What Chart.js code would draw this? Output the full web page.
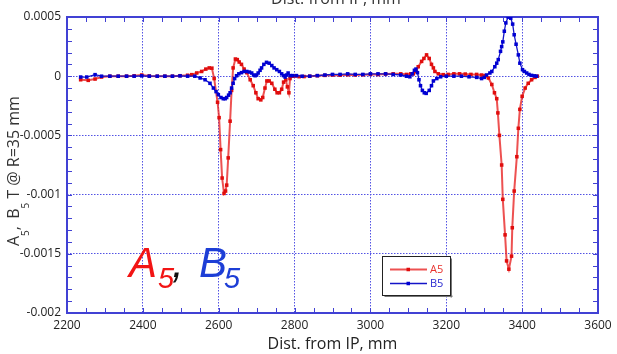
<!DOCTYPE html>
<html>
<head>
<meta charset="utf-8">
<script src="https://cdn.jsdelivr.net/npm/chart.js@4.4.0/dist/chart.umd.min.js"></script>
<style>
  html, body { margin: 0; padding: 0; background: #fff; }
  #wrap { width: 617px; height: 354px; }
</style>
</head>
<body>
<div id="wrap"><canvas id="multChart" width="617" height="354"></canvas></div>
<script>
// A5 harmonic along the magnet, T @ R=35 mm
const a5Dist = [2236, 2256, 2274, 2291, 2313, 2335, 2357, 2377, 2397, 2417, 2438, 2458, 2478, 2498, 2518,
  2529, 2542, 2555, 2566, 2575, 2582, 2588, 2597, 2601, 2605, 2609, 2614, 2618, 2621, 2625, 2630, 2634,
  2638, 2644, 2649, 2654, 2660, 2667, 2674, 2683, 2691, 2698, 2704, 2711, 2716, 2722, 2727, 2733, 2740,
  2748, 2754, 2760, 2766, 2771, 2777, 2781, 2785, 2788, 2794, 2802, 2812, 2825, 2840, 2860, 2880, 2900,
  2920, 2940, 2960, 2980, 3000, 3020, 3040, 3060, 3080, 3095, 3106, 3113, 3120, 3126, 3135, 3141, 3148,
  3155, 3161, 3166, 3170, 3179, 3192, 3205, 3220, 3235, 3250, 3265, 3280, 3293, 3302, 3311, 3320, 3327,
  3333, 3336, 3340, 3346, 3349, 3355, 3359, 3365, 3372, 3374, 3379, 3386, 3390, 3394, 3400, 3408, 3416,
  3425, 3434, 3440];
const a5Val = [-0.00003, -0.000035, -0.000024, -0.000007, 0, 0, 0, 0.000003, 0.00001, 0.000002, 0, 0, 0,
  0.000004, 0.000008, 0.000013, 0.000027, 0.00004, 0.00006, 0.00007, 0.000068, -0.00002, -0.00022,
  -0.00035, -0.00062, -0.00086, -0.00099, -0.00097, -0.00092, -0.00069, -0.00038, -0.00012, 0.00007,
  0.000145, 0.00014, 0.00012, 0.0001, 0.00006, 0.00003, -0.00003, -0.00008, -0.00014, -0.00019, -0.0002,
  -0.00018, -0.0001, -0.00004, -0.00004, -0.00006, -0.00011, -0.00014, -0.00014, -0.00011, -0.00005,
  -0.00003, -0.00009, -0.00014, -0.00002, 0, 0.000002, -0.000004, -0.000003, 0, 0.000004, 0.000007,
  0.00001, 0.000008, 0.000012, 0.00001, 0.000012, 0.000015, 0.000014, 0.000018, 0.00002, 0.00002,
  0.000015, 0.00002, 0.00002, 0.00004, 0.00008, 0.000125, 0.00015, 0.00018, 0.00015, 0.0001, 0.00007,
  0.00004, 0.00002, 0.000013, 0.000015, 0.00002, 0.00002, 0.000018, 0.000015, 0.000015, 0.00001,
  0.000005, -0.000015, -0.00007, -0.00014, -0.00019, -0.00031, -0.0005, -0.00075, -0.00104, -0.00134,
  -0.00156, -0.00163, -0.00152, -0.00128, -0.00097, -0.00068, -0.00044, -0.00028, -0.00017, -0.0001,
  -0.00006, -0.00003, -0.00001, 0];

// B5 harmonic along the magnet
const b5Dist = [2236, 2252, 2274, 2291, 2313, 2335, 2357, 2377, 2397, 2417, 2438, 2458, 2478, 2498, 2518,
  2537, 2551, 2564, 2577, 2586, 2593, 2599, 2606, 2612, 2617, 2621, 2626, 2630, 2634, 2638, 2642, 2647,
  2653, 2660, 2667, 2674, 2681, 2687, 2692, 2696, 2700, 2704, 2709, 2713, 2719, 2726, 2733, 2740, 2746,
  2753, 2760, 2766, 2771, 2775, 2779, 2783, 2788, 2795, 2805, 2820, 2840, 2860, 2880, 2900, 2920, 2940,
  2960, 2980, 3000, 3020, 3040, 3060, 3080, 3095, 3104, 3110, 3116, 3120, 3124, 3128, 3132, 3137, 3142,
  3147, 3155, 3161, 3166, 3175, 3185, 3200, 3220, 3240, 3260, 3280, 3293, 3300, 3306, 3315, 3320, 3328,
  3333, 3337, 3343, 3346, 3349, 3353, 3357, 3363, 3367, 3370, 3375, 3379, 3384, 3390, 3394, 3401, 3406,
  3412, 3418, 3425, 3432, 3438];
const b5Val = [-0.000007, -0.000007, 0.000013, 0, 0, 0, 0, 0, 0.000003, 0, 0, 0, 0, 0.000003, 0, 0,
  -0.000015, -0.00003, -0.00006, -0.0001, -0.00013, -0.000156, -0.00018, -0.00019, -0.00019, -0.00018,
  -0.00016, -0.00014, -0.0001, -0.00006, -0.00002, 0.000004, 0.00002, 0.00003, 0.00004, 0.00004,
  0.000035, 0.000027, 0.00001, 0.000004, 0.00001, 0.000027, 0.00005, 0.00007, 0.0001, 0.000117, 0.00011,
  0.00009, 0.00007, 0.000055, 0.00004, 0.00002, 0.000005, -0.000007, 0.00001, 0.000027, 0.000005,
  0.000005, 0.000005, 0, 0, 0.000005, 0.00001, 0.000015, 0.000015, 0.00002, 0.000015, 0.000015, 0.00002,
  0.00002, 0.00002, 0.000015, 0.00001, 0, -0.000005, 0.00002, 0.00005, 0.00006, 0.00003, -0.00003,
  -0.00008, -0.00012, -0.00014, -0.000145, -0.00012, -0.00008, -0.00004, -0.00002, -0.000005, 0, 0, 0,
  -0.000005, -0.00001, -0.00002, -0.00001, 0.00001, 0.000027, 0.00004, 0.00008, 0.00011, 0.00014,
  0.00021, 0.00025, 0.00029, 0.00038, 0.00045, 0.0005, 0.0005, 0.00049, 0.00044, 0.00035, 0.00027,
  0.00018, 0.00011, 0.000055, 0.00004, 0.000027, 0.000015, 0.000007, 0.000003, 0];

const xTicks = [2200, 2400, 2600, 2800, 3000, 3200, 3400, 3600];
const yTicks = [0.0005, 0, -0.0005, -0.001, -0.0015, -0.002];
const xMinorStep = 50;
const yMinorPerMajor = 5;

const AXIS = '#4141d4';
const GRID = '#5252e4';
const FONT = '"Open Sans", "Liberation Sans", sans-serif';

const toPoints = (xs, ys) => xs.map((d, i) => ({ x: d, y: ys[i] }));

// full box with inward minor/major ticks on all four sides
const frame = {
  id: 'frame',
  beforeDatasetsDraw(chart) {
    const { ctx, chartArea: a, scales: { x, y } } = chart;
    ctx.save();
    ctx.strokeStyle = AXIS;
    ctx.lineWidth = 1;
    ctx.beginPath();
    for (let v = x.min; v <= x.max; v += xMinorStep) {
      const px = Math.round(x.getPixelForValue(v)) + 0.5;
      ctx.moveTo(px, a.bottom); ctx.lineTo(px, a.bottom - 5);
      ctx.moveTo(px, a.top); ctx.lineTo(px, a.top + 5);
    }
    const step = (yTicks[0] - yTicks[1]) / yMinorPerMajor;
    const n = Math.round((y.max - y.min) / step);
    for (let i = 0; i <= n; i++) {
      const py = Math.round(y.getPixelForValue(y.min + i * step)) + 0.5;
      ctx.moveTo(a.left, py); ctx.lineTo(a.left + 5, py);
      ctx.moveTo(a.right, py); ctx.lineTo(a.right - 5, py);
    }
    ctx.stroke();
    ctx.lineWidth = 2;
    ctx.strokeRect(a.left, a.top, a.right - a.left, a.bottom - a.top);
    ctx.restore();
  }
};

// titles and annotations around the plot
const labels = {
  id: 'labels',
  afterDraw(chart) {
    const { ctx } = chart;
    ctx.save();

    // top copy of the axis title, clipped by the canvas edge
    ctx.fillStyle = '#333';
    ctx.font = '16px ' + FONT;
    ctx.textAlign = 'center';
    ctx.textBaseline = 'alphabetic';
    ctx.fillText('Dist. from IP, mm', 336, 4);

    // y axis title with subscripts
    ctx.save();
    ctx.translate(18.5, 246);
    ctx.rotate(-Math.PI / 2);
    ctx.textAlign = 'left';
    const parts = [
      ['A', 0, 16], ['5', 10, 10], [',', 0, 16], ['  B', 0, 16], ['5', 10, 10], [' T @ R=35 mm', 0, 16]
    ];
    let cx = 0;
    parts.forEach(([t, dy, size]) => {
      ctx.font = size + 'px ' + FONT;
      ctx.fillText(t, cx, dy);
      if (t !== ',') cx += ctx.measureText(t).width;
      else cx += 3;
    });
    ctx.restore();

    // large A5, B5 annotation
    ctx.textAlign = 'left';
    ctx.font = 'italic 42px "Liberation Sans", sans-serif';
    ctx.fillStyle = '#f21414';
    ctx.fillText('A', 129, 277);
    ctx.fillStyle = '#111';
    ctx.fillText(',', 172, 277);
    ctx.fillStyle = '#1d3ed6';
    ctx.fillText('B', 199, 277);
    ctx.font = 'italic 29px "Liberation Sans", sans-serif';
    ctx.fillStyle = '#f21414';
    ctx.fillText('5', 158, 288);
    ctx.fillStyle = '#1d3ed6';
    ctx.fillText('5', 224, 288);

    // legend box
    const bx = 382.5, by = 256.5, bw = 68, bh = 39;
    ctx.fillStyle = '#fff';
    ctx.fillRect(bx, by, bw, bh);
    ctx.fillStyle = '#777';
    ctx.fillRect(bx + 2, by + bh, bw, 1.5);
    ctx.fillRect(bx + bw, by + 2, 1.5, bh);
    ctx.strokeStyle = '#222';
    ctx.lineWidth = 1;
    ctx.strokeRect(bx, by, bw, bh);
    ctx.font = '11px ' + FONT;
    ctx.textBaseline = 'middle';
    chart.data.datasets.forEach((ds, i) => {
      const ly = 269.5 + i * 14;
      ctx.strokeStyle = ds.borderColor;
      ctx.lineWidth = ds.borderWidth;
      ctx.beginPath();
      ctx.moveTo(390, ly); ctx.lineTo(427, ly);
      ctx.stroke();
      ctx.fillStyle = ds.pointBackgroundColor;
      ctx.fillRect(406.5, ly - 1.75, 3.5, 3.5);
      ctx.fillStyle = ds.legendColor;
      ctx.fillText(ds.label, 430, ly + 0.5);
    });
    ctx.restore();
  }
};

new Chart(document.getElementById('multChart'), {
  type: 'line',
  data: {
    datasets: [{
      label: 'A5',
      data: toPoints(a5Dist, a5Val),
      borderColor: 'rgba(232, 38, 38, 0.8)',
      borderWidth: 2,
      pointStyle: 'rect',
      pointRadius: 2.5,
      pointBorderWidth: 0,
      pointBackgroundColor: '#e00d0d',
      legendColor: '#e8332f',
      order: 2
    }, {
      label: 'B5',
      data: toPoints(b5Dist, b5Val),
      borderColor: '#1414c8',
      borderWidth: 1.3,
      pointStyle: 'rect',
      pointRadius: 2.5,
      pointBorderWidth: 0,
      pointBackgroundColor: '#0000d2',
      legendColor: '#2a2ad0',
      order: 1
    }]
  },
  options: {
    responsive: false,
    animation: false,
    layout: { padding: { top: 17, right: 19, left: 0, bottom: 0 } },
    plugins: { legend: { display: false }, tooltip: { enabled: false } },
    scales: {
      x: {
        type: 'linear',
        min: 2200,
        max: 3600,
        afterBuildTicks: s => { s.ticks = xTicks.map(v => ({ value: v })); },
        afterFit: s => { s.height = 41; },
        ticks: { autoSkip: false, maxRotation: 0, padding: 5, color: '#222', font: { family: FONT, size: 12 },
          callback: v => String(v) },
        grid: { color: GRID, lineWidth: 1, drawTicks: false },
        border: { display: false, dash: [1.5, 1.5] },
        title: { display: true, text: 'Dist. from IP, mm', color: '#222', font: { family: FONT, size: 16 },
          padding: { top: 0, bottom: 0 } }
      },
      y: {
        min: -0.002,
        max: 0.0005,
        afterBuildTicks: s => { s.ticks = yTicks.map(v => ({ value: v })); },
        afterFit: s => { s.width = 67; },
        ticks: { padding: 6, color: '#222', font: { family: FONT, size: 12 }, callback: v => String(v) },
        grid: { color: GRID, lineWidth: 1, drawTicks: false },
        border: { display: false, dash: [1.5, 1.5] }
      }
    }
  },
  plugins: [frame, labels]
});
</script>
</body>
</html>
